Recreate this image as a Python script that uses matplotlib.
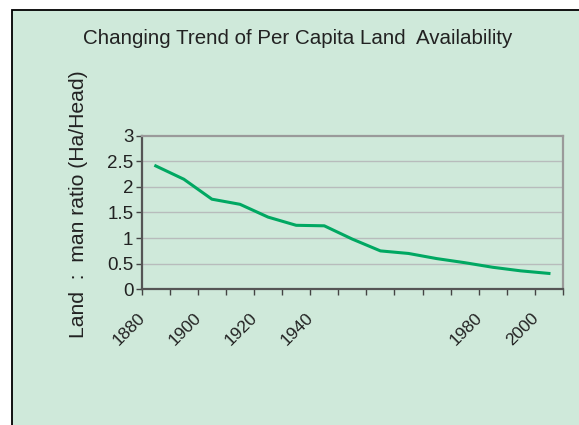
import matplotlib
matplotlib.use("Agg")
import matplotlib.pyplot as plt
from matplotlib.patches import Rectangle
from matplotlib.transforms import ScaledTranslation

plt.rcParams['font.family'] = ['Liberation Sans', 'DejaVu Sans']

# per capita land, one value per category slot
ratio = [2.41, 2.15, 1.76, 1.66, 1.41, 1.25, 1.24, 0.98, 0.75, 0.70,
         0.60, 0.52, 0.43, 0.36, 0.31]
year_labels = ['1880', '', '1900', '', '1920', '', '1940', '', '', '',
               '', '', '1980', '', '2000']
y_ticks = [0, 0.5, 1, 1.5, 2, 2.5, 3]
y_tick_labels = ['0', '0.5', '1', '1.5', '2', '2.5', '3']

panel = '#cfe9da'
line_green = '#00a862'
text_col = '#222222'

W, H = 579, 425
fig = plt.figure(figsize=(W / 100, H / 100), dpi=100)
fig.patch.set_facecolor('white')

# green panel with black border on the left/top
fig.patches.append(Rectangle((12 / W, -0.1), 1.2, (H - 10) / H + 0.1,
                             transform=fig.transFigure, facecolor=panel,
                             edgecolor='black', linewidth=1.3, zorder=-10))

ax = fig.add_axes([141.7 / W, (H - 289.3) / H, (563 - 141.7) / W, (289.3 - 135.7) / H])
ax.set_facecolor('none')

x = list(range(len(ratio)))
ax.plot(x, ratio, color=line_green, linewidth=2.2, zorder=3)

ax.set_xlim(-0.5, len(ratio) - 0.5)
ax.set_ylim(0, 3)
ax.set_yticks(y_ticks)
ax.set_yticklabels(y_tick_labels)
for v in y_ticks[1:-1]:
    ax.axhline(v, color='#b8bcbc', linewidth=1.0, zorder=1)

# category labels at centres, tick marks at boundaries
ax.set_xticks(x)
ax.set_xticklabels(year_labels)
ax.set_xticks([i - 0.5 for i in range(len(ratio) + 1)], minor=True)
ax.tick_params(axis='x', which='major', length=0, pad=19, labelsize=12.5,
               labelcolor=text_col, labelrotation=45)
ax.tick_params(axis='x', which='minor', length=4, width=1, color='#444444', direction='out')
ax.tick_params(axis='y', length=4, width=1, color='#444444', pad=2,
               labelsize=13.5, labelcolor=text_col)
offset = ScaledTranslation(-13 / 100, 0, fig.dpi_scale_trans)
for lab in ax.get_xticklabels():
    lab.set_ha('right')
    lab.set_va('center')
    lab.set_rotation_mode('anchor')
    lab.set_transform(lab.get_transform() + offset)

ax.spines['left'].set_color('#555555')
ax.spines['bottom'].set_color('#555555')
ax.spines['top'].set_color('#9a9a9a')
ax.spines['right'].set_color('#9a9a9a')
for s in ax.spines.values():
    s.set_linewidth(1.6)

fig.text(298 / W, 1 - 38 / H, 'Changing Trend of Per Capita Land  Availability',
         ha='center', va='center', fontsize=14.8, color=text_col)
fig.text(79 / W, 1 - 204 / H, 'Land  :  man ratio (Ha/Head)', rotation=90,
         ha='center', va='center', fontsize=15.2, color=text_col)

fig.savefig('out.png', dpi=100, facecolor=fig.get_facecolor())
